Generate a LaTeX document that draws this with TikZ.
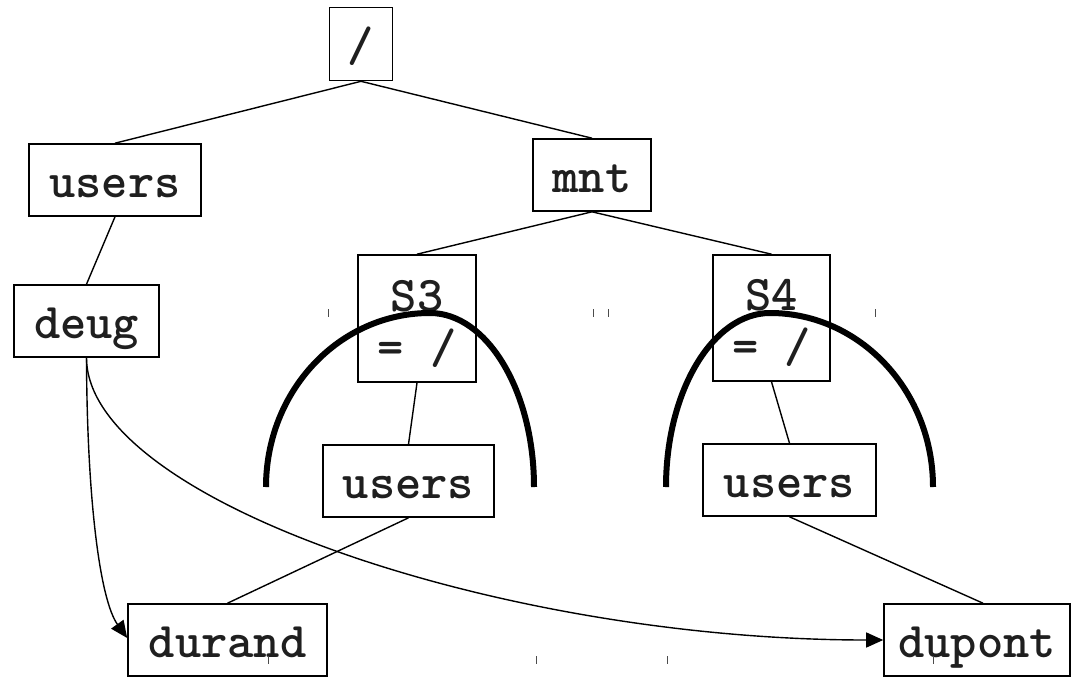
\documentclass[tikz,border=0pt]{standalone}
\usepackage{fontspec}
\setmonofont{lmmonolt10-regular}[Extension=.otf, BoldFont=lmmonolt10-bold]
\usetikzlibrary{arrows.meta}
\tikzset{
  ttfont/.style={font=\ttfamily\bfseries\fontsize{50}{52}\selectfont, text=black!88},
  frame/.style={draw, line width=1.6pt, rectangle, inner sep=0pt},
  box/.style={frame, ttfont, text height=36pt, text depth=2pt},
  edge/.style={line width=1.4pt},
  arr/.style={line width=1.4pt, -{Triangle[length=17pt,width=15pt]}},
  cut/.style={line width=6pt},
  tick/.style={line width=0.9pt, black!70},
}
\begin{document}
\begin{tikzpicture}[x=1pt,y=-1pt]
\useasboundingbox (0,0) rectangle (1075,677);
\fill[white] (0,0) rectangle (1075,677);
% nodes
\node[box, minimum width=63pt, minimum height=73pt] (root) at (361,44) {/};
\node[box, minimum width=172pt, minimum height=72pt] (usersL) at (115,180) {users};
\node[box, minimum width=145pt, minimum height=72pt] (deug) at (86.5,321) {deug};
\node[box, minimum width=118pt, minimum height=72pt] (mnt) at (592,175) {mnt};
\node[frame, minimum width=118pt, minimum height=127pt] (s3) at (417,318.5) {};
\node[ttfont, align=center, inner sep=0pt] (s3t) at ([yshift=-5pt]s3.center) {S3\\= /};
\node[frame, minimum width=117pt, minimum height=126pt] (s4) at (771.5,318) {};
\node[ttfont, align=center, inner sep=0pt] (s4t) at ([yshift=-5pt]s4.center) {S4\\= /};
\node[box, minimum width=171pt, minimum height=72pt] (users3) at (408.5,481) {users};
\node[box, minimum width=173pt, minimum height=72pt] (users4) at (789.5,480) {users};
\node[box, minimum width=199pt, minimum height=72pt] (durand) at (227.5,640) {durand};
\node[box, minimum width=186pt, minimum height=72pt] (dupont) at (977,640) {dupont};
% tree edges
\draw[edge] (root.south) -- (usersL.north);
\draw[edge] (root.south) -- (mnt.north);
\draw[edge] (usersL.south) -- (deug.north);
\draw[edge] (mnt.south) -- (s3.north);
\draw[edge] (mnt.south) -- (s4.north);
\draw[edge] (s3.south) -- (users3.north);
\draw[edge] (s4.south) -- (users4.north);
\draw[edge] (users3.south) -- (durand.north);
\draw[edge] (users4.south) -- ([xshift=6pt]dupont.north);
% links
\draw[arr] (deug.south) .. controls (87,500) and (100,600) .. ([yshift=2pt]durand.west);
\draw[arr] (deug.south) .. controls (87,500) and (500,640) .. (dupont.west);
% mount arcs
\draw[cut] (266,487) .. controls (266,391) and (339,313) .. (430,313)
           .. controls (487,313) and (534,391) .. (534,487);
\draw[cut] (666,487) .. controls (666,391) and (713,313) .. (770,313)
           .. controls (860,313) and (933,391) .. (933,487);
% small ticks
\foreach \x in {328,593,608,875} \draw[tick] (\x,309) -- (\x,317);
\foreach \x in {268,536,667,933} \draw[tick] (\x,656) -- (\x,664);
\end{tikzpicture}
\end{document}
